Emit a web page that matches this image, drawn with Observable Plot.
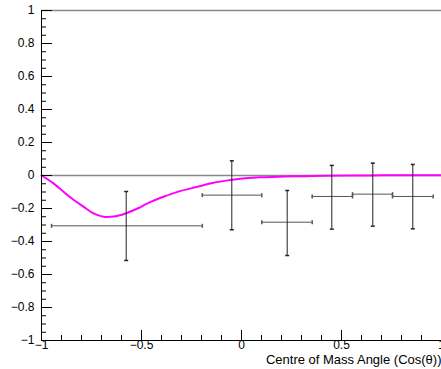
<!DOCTYPE html>
<html>
<head>
<meta charset="utf-8">
<script src="https://cdn.jsdelivr.net/npm/d3@7"></script>
<script src="https://cdn.jsdelivr.net/npm/@observablehq/plot@0.6"></script>
<style>
  body { margin: 0; background: #fff; }
  svg { display: block; }
</style>
</head>
<body>
<div id="chart"></div>
<script>
// Measured asymmetry per cos(theta) bin: bin edges, centres, values and error band
const binLow   = [-0.95, -0.196, 0.1015, 0.3535, 0.555, 0.755];
const binHigh  = [-0.196, 0.1015, 0.3535, 0.555, 0.755, 0.9585];
const binCentre = [-0.5765, -0.0485, 0.2285, 0.4515, 0.6565, 0.8565];
const value    = [-0.305, -0.119, -0.283, -0.127, -0.113, -0.127];
const errUp    = [-0.097, 0.089, -0.091, 0.061, 0.075, 0.067];
const errDown  = [-0.515, -0.329, -0.485, -0.325, -0.307, -0.323];

// Theory prediction curve
const curveX = [-1, -0.94, -0.86, -0.79, -0.74, -0.69, -0.64, -0.58, -0.52, -0.47, -0.39, -0.32,
                -0.22, -0.14, -0.06, 0.02, 0.12, 0.22, 0.32, 0.42, 0.55, 0.7, 0.85, 1.0];
const curveY = [0, -0.048, -0.129, -0.189, -0.23, -0.25, -0.249, -0.23, -0.2, -0.169, -0.129, -0.099,
                -0.068, -0.044, -0.028, -0.016, -0.01, -0.006, -0.004, -0.002, 0, 0.001, 0.002, 0.002];

// Axis ticks and their labels
const xMajor = [-1, -0.5, 0, 0.5, 1];
const xTickLabels = ["\u22121", "\u22120.5", "0", "0.5", "1"];
const yMajor = [1, 0.8, 0.6, 0.4, 0.2, 0, -0.2, -0.4, -0.6, -0.8, -1];
const yTickLabels = ["1", "0.8", "0.6", "0.4", "0.2", "0", "\u22120.2", "\u22120.4", "\u22120.6", "\u22120.8", "\u22121"];
const xTitle = "Centre of Mass Angle (Cos(\u03b8))";

const W = 441, H = 369;
const mL = 41, mR = 0, mT = 10, mB = 29;
const innerW = W - mL - mR, innerH = H - mT - mB;

const xMinor = d3.range(-10, 11).map(i => i / 10).filter(v => !xMajor.some(m => Math.abs(m - v) < 1e-9));
const yMinor = d3.range(-20, 21).map(i => i / 20).filter(v => !yMajor.some(m => Math.abs(m - v) < 1e-9));

const points = binCentre.map((c, i) => ({
  x: c, lo: binLow[i], hi: binHigh[i], y: value[i], up: errUp[i], down: errDown[i]
}));
const curve = curveX.map((x, i) => ({x, y: curveY[i]}));

// small perpendicular end caps for the error bars
const capV = {draw(ctx, size) { const h = Math.sqrt(size / Math.PI); ctx.moveTo(0, -h); ctx.lineTo(0, h); }};
const capH = {draw(ctx, size) { const h = Math.sqrt(size / Math.PI); ctx.moveTo(-h, 0); ctx.lineTo(h, 0); }};

const xLabelData = xMajor.map((v, i) => ({v, t: xTickLabels[i]}));
const yLabelData = yMajor.map((v, i) => ({v, t: yTickLabels[i]}));

const chart = Plot.plot({
  width: W,
  height: H,
  marginLeft: mL,
  marginRight: mR,
  marginTop: mT,
  marginBottom: mB,
  style: {fontFamily: "'Liberation Sans', Arial, Helvetica, sans-serif", fontSize: "12px", background: "#fff", overflow: "visible"},
  x: {domain: [-1, 1], axis: null},
  y: {domain: [-1, 1], axis: null},
  marks: [
    // top frame edge and zero line
    Plot.ruleY([1], {stroke: "#888", strokeWidth: 1.5}),
    Plot.ruleY([0], {stroke: "#888", strokeWidth: 1.5}),

    // theory curve
    Plot.line(curve, {x: "x", y: "y", stroke: "#ff00ff", strokeWidth: 2, curve: "catmull-rom"}),

    // error bars
    Plot.ruleY(points, {y: "y", x1: "lo", x2: "hi", stroke: "#555", strokeWidth: 1}),
    Plot.ruleX(points, {x: "x", y1: "down", y2: "up", stroke: "#222", strokeWidth: 1}),
    Plot.dot(points, {x: "lo", y: "y", symbol: capV, r: 2, fill: "none", stroke: "#555"}),
    Plot.dot(points, {x: "hi", y: "y", symbol: capV, r: 2, fill: "none", stroke: "#555"}),
    Plot.dot(points, {x: "x", y: "up", symbol: capH, r: 2, fill: "none", stroke: "#222"}),
    Plot.dot(points, {x: "x", y: "down", symbol: capH, r: 2, fill: "none", stroke: "#222"}),

    // axis lines
    Plot.ruleX([-1], {stroke: "#000", strokeWidth: 1}),
    Plot.ruleY([-1], {stroke: "#000", strokeWidth: 1}),

    // inward ticks
    Plot.tickX(xMajor, {x: d => d, insetTop: innerH - 10, stroke: "#000"}),
    Plot.tickX(xMinor, {x: d => d, insetTop: innerH - 5, stroke: "#000"}),
    Plot.tickY(yMajor, {y: d => d, insetRight: innerW - 11, stroke: "#000"}),
    Plot.tickY(yMinor, {y: d => d, insetRight: innerW - 5, stroke: "#000"}),

    // tick labels
    Plot.text(yLabelData, {y: "v", text: "t", frameAnchor: "left", dx: -7, textAnchor: "end", fill: "#000"}),
    Plot.text(xLabelData, {x: "v", text: "t", frameAnchor: "bottom", dy: 8, fill: "#000"}),

    // axis title
    Plot.text([xTitle], {text: d => d, frameAnchor: "bottom-right", dy: 23, textAnchor: "end", fontSize: 13, fill: "#000"})
  ]
});

document.getElementById("chart").appendChild(chart);
</script>
</body>
</html>
